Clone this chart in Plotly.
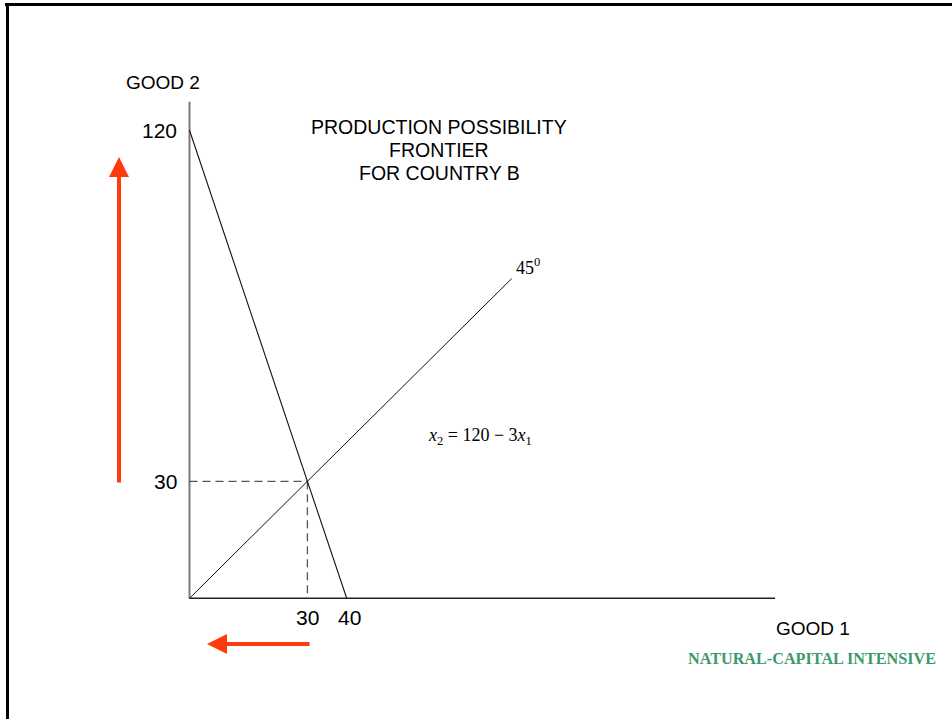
import plotly.graph_objects as go

# ---- data ----
frontier_x = [0, 40]
frontier_y = [120, 0]
diag_x = [0, 82]
diag_y = [0, 82]
guide_h_x = [0, 30]
guide_h_y = [30, 30]
guide_v_x = [30, 30]
guide_v_y = [30, 0]
x_axis_x = [0, 149]
x_axis_y = [0, 0]
y_axis_x = [0, 0]
y_axis_y = [0, 127.3]
x_tick_vals = [30, 40]
x_tick_text = ["30", "40"]
y_tick_vals = [120, 30]
y_tick_text = ["120", "30"]
title_lines = ["PRODUCTION POSSIBILITY", "FRONTIER", "FOR COUNTRY B"]

W, H = 952, 719
OX, OY = 189.5, 598.3   # origin pixel
SX, SY = 3.93, 3.9      # px per unit

fig = go.Figure()

def line(xs, ys, color, width, dash="solid"):
    fig.add_trace(go.Scatter(x=xs, y=ys, mode="lines",
                             line=dict(color=color, width=width, dash=dash),
                             hoverinfo="skip", showlegend=False))

line(y_axis_x, y_axis_y, "#7a7a7a", 2)
line(x_axis_x, x_axis_y, "#222222", 1.6)
line(guide_h_x, guide_h_y, "#555555", 1.3, "8px,5px")
line(guide_v_x, guide_v_y, "#555555", 1.3, "8px,5px")
line(frontier_x, frontier_y, "#111111", 1.1)
line(diag_x, diag_y, "#111111", 1.0)

ann = []
ARIAL = "Liberation Sans, Arial, sans-serif"
TIMES = "Liberation Serif, Times New Roman, serif"

for v, t in zip(y_tick_vals, y_tick_text):
    ann.append(dict(x=0, y=v, text=t, xref="x", yref="y", xanchor="right",
                    yanchor="middle", xshift=-11, showarrow=False,
                    font=dict(family=ARIAL, size=21, color="#000")))
for i, (v, t) in enumerate(zip(x_tick_vals, x_tick_text)):
    ann.append(dict(x=v, y=0, text=t, xref="x", yref="y", xanchor="center",
                    yanchor="middle", yshift=-19, xshift=(0 if i == 0 else 3),
                    showarrow=False, font=dict(family=ARIAL, size=21, color="#000")))

def ptext(px, py, text, size, family=ARIAL, color="#000", xanchor="left"):
    ann.append(dict(x=px / W, y=1 - py / H, xref="paper", yref="paper",
                    text=text, xanchor=xanchor, yanchor="middle",
                    showarrow=False, font=dict(family=family, size=size, color=color)))

ptext(124, 82, "GOOD 2", 19)
for i, t in enumerate(title_lines):
    ptext(439, 127 + 23 * i, t, 19.5, xanchor="center")
ptext(774, 628, "GOOD 1", 19)
ptext(812, 659, "<b>NATURAL-CAPITAL INTENSIVE</b>", 16.2, family=TIMES,
      color="#3c9a6a", xanchor="center")
ptext(514, 266, "45<sup>0</sup>", 18, family=TIMES)
ptext(426, 436, "<i>x</i><sub>2</sub> = 120 − 3<i>x</i><sub>1</sub>", 18, family=TIMES)

# red arrows (decorative, paper coords, tail offset in pixels)
RED = "#ff3a0c"
ann.append(dict(x=119 / W, y=1 - 157 / H, ax=0, ay=327,
                xref="paper", yref="paper", axref="pixel", ayref="pixel",
                text="", showarrow=True, arrowhead=2, arrowsize=1.0,
                arrowwidth=4, arrowcolor=RED))
ann.append(dict(x=207 / W, y=1 - 644 / H, ax=104, ay=0,
                xref="paper", yref="paper", axref="pixel", ayref="pixel",
                text="", showarrow=True, arrowhead=2, arrowsize=1.0,
                arrowwidth=4, arrowcolor=RED))

shapes = [
    dict(type="line", xref="paper", yref="paper", x0=5 / W, x1=1, y0=1 - 4.5 / H,
         y1=1 - 4.5 / H, line=dict(color="#000", width=3)),
    dict(type="line", xref="paper", yref="paper", x0=7.5 / W, x1=7.5 / W, y0=1 - 3 / H,
         y1=0, line=dict(color="#000", width=3)),
]

fig.update_layout(
    width=W, height=H, margin=dict(l=0, r=0, t=0, b=0),
    paper_bgcolor="white", plot_bgcolor="white",
    xaxis=dict(range=[-OX / SX, (W - OX) / SX], visible=False, fixedrange=True),
    yaxis=dict(range=[-(H - OY) / SY, OY / SY], visible=False, fixedrange=True),
    annotations=ann, shapes=shapes, showlegend=False,
)

fig.write_html("out.html", config={"displayModeBar": False},
               post_script="document.body.style.margin='0';document.body.style.overflow='hidden';")
